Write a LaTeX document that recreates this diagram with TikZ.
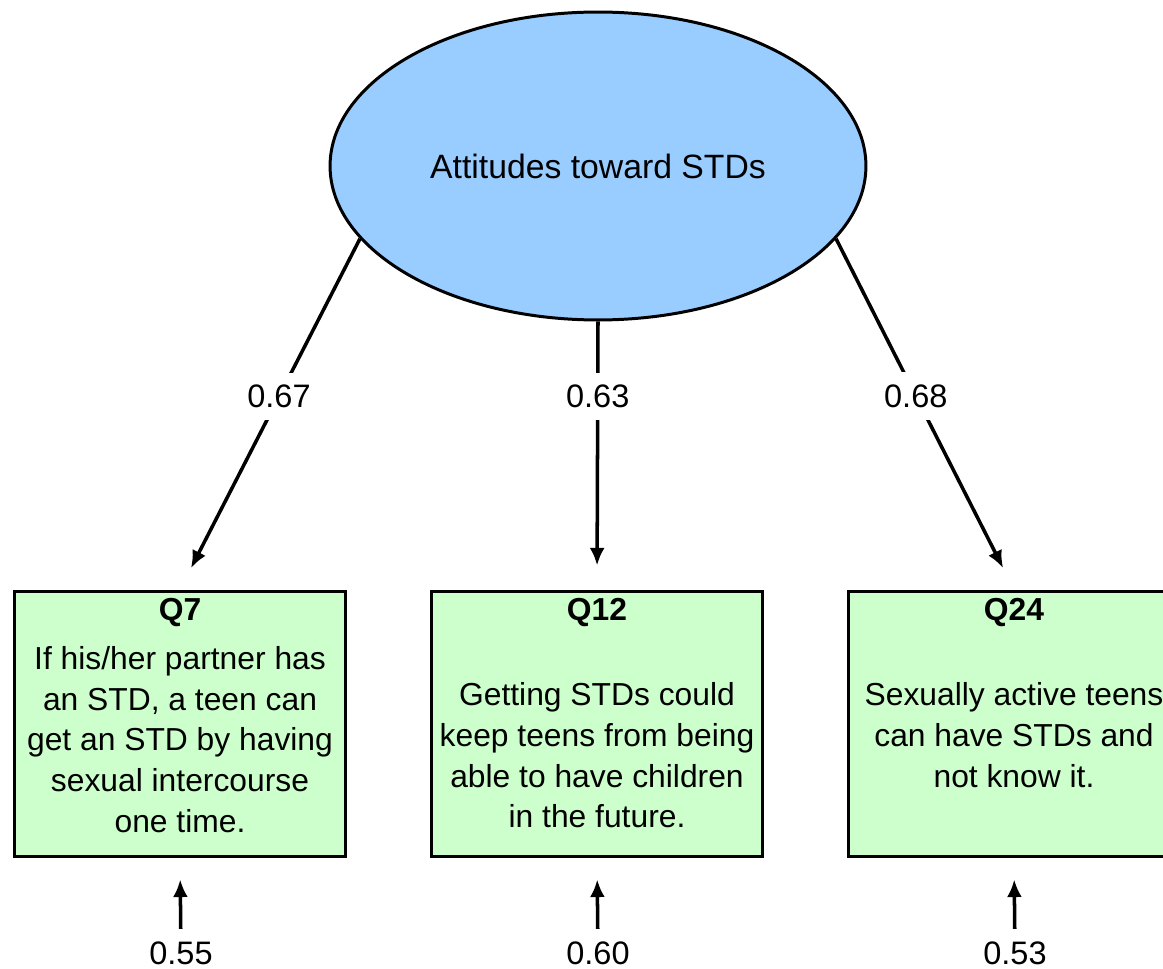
\documentclass[tikz,border=0pt]{standalone}
\usepackage{fontspec}
\setmainfont{Liberation Sans}
\usepackage{tikz}
\usetikzlibrary{shapes.geometric,arrows.meta,positioning}

\definecolor{latentblue}{HTML}{99CCFF}
\definecolor{itemgreen}{HTML}{CCFFCC}

\tikzset{
	latent/.style={shape=ellipse,draw=black,line width=1.7pt,fill=latentblue,inner sep=0pt,
		minimum width=10.72cm,minimum height=6.16cm,font=\fontsize{19.2}{23}\selectfont},
	item/.style={shape=rectangle,draw=black,line width=1.7pt,fill=itemgreen,inner sep=0pt,
		minimum width=6.64cm,minimum height=5.32cm},
	itemtext/.style={align=center,inner sep=0pt,font=\fontsize{18.1}{23.2}\selectfont},
	lbl/.style={fill=white,inner sep=7pt,font=\fontsize{18.5}{23}\selectfont},
	load/.style={line width=2pt,-{Latex[length=10pt,width=8.5pt]},shorten >=0.48cm}
}

\begin{document}
\begin{tikzpicture}[x=0.02cm,y=-0.02cm]

	\useasboundingbox (0,0) rectangle (1163,969);

	\node[latent] (ell) at (598,166) {Attitudes toward STDs};

	\node[item] (q7)  at (180,724)  {};
	\node[item] (q12) at (597,724)  {};
	\node[item] (q24) at (1014,724) {};

	\node[itemtext,below=0.16cm of q7.north]  (q7t)  {\textbf{Q7}\\[4.8pt]
		If his/her partner has\\ an STD, a teen can\\ get an STD by having\\ sexual intercourse\\ one time.};
	\node[itemtext,below=0.16cm of q12.north] (q12t) {\textbf{Q12}\\[25.5pt]
		Getting STDs could\\ keep teens from being\\ able to have children\\ in the future.};
	\node[itemtext,below=0.16cm of q24.north] (q24t) {\textbf{Q24}\\[25.5pt]
		Sexually active teens\\ can have STDs and\\ not know it.};

	\node[lbl] (e7)  at (181,953)  {0.55};
	\node[lbl] (e12) at (598,953)  {0.60};
	\node[lbl] (e24) at (1015,953) {0.53};

	\draw[load] (ell.197) -- node[lbl,pos=0.45] {0.67} (q7.north);
	\draw[load] (ell.south) -- node[lbl,pos=0.28] {0.63} (q12.north);
	\draw[load] (ell.343) -- node[lbl,pos=0.448] {0.68} (q24.north);

	\draw[load,shorten >=0.42cm] (e7) -- (q7.south);
	\draw[load,shorten >=0.42cm] (e12) -- (q12.south);
	\draw[load,shorten >=0.42cm] (e24) -- (q24.south);

\end{tikzpicture}
\end{document}
